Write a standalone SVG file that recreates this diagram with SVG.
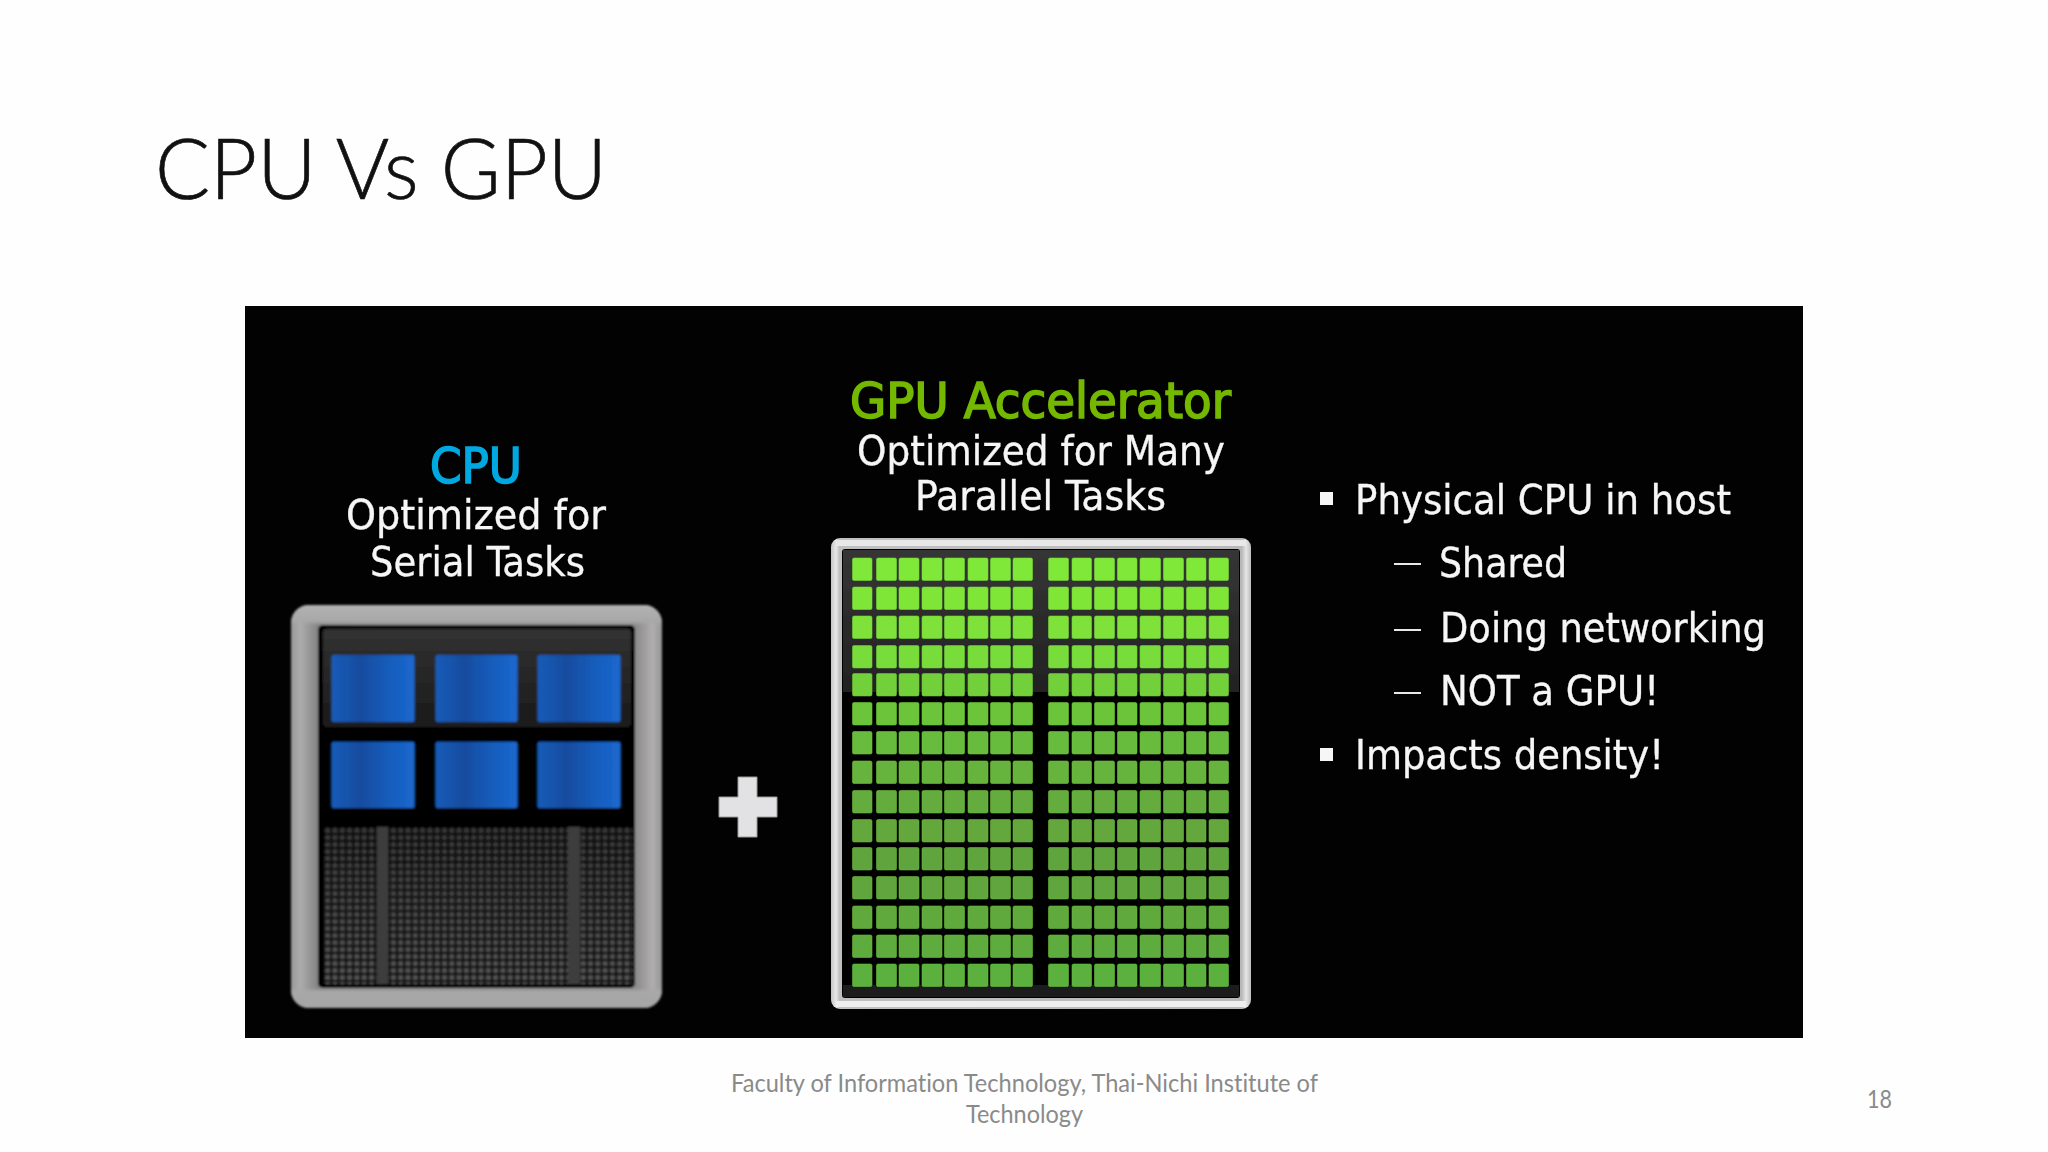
<svg xmlns="http://www.w3.org/2000/svg" xmlns:xlink="http://www.w3.org/1999/xlink" width="2048" height="1152" viewBox="0 0 2048 1152">
<style>
.sl{font-family:"DejaVu Sans Condensed","DejaVu Sans",sans-serif;font-size:41px;fill:#f6f6f6;stroke:#f6f6f6;stroke-width:.3px}
.hd{font-family:"DejaVu Sans Condensed","DejaVu Sans",sans-serif;font-size:49px;stroke-width:1.5px}
.ft{font-family:Lato,"Liberation Sans",sans-serif;font-size:25px;fill:#8a8a8a;font-variant-ligatures:none}
.blue{fill:url(#bl)}
.cell{stroke-width:.6}
</style>
<defs>
<filter id="softer" x="-5%" y="-5%" width="110%" height="110%"><feGaussianBlur stdDeviation="0.6"/></filter>
<filter id="soft" x="-5%" y="-5%" width="110%" height="110%"><feGaussianBlur stdDeviation="0.8"/></filter>
<linearGradient id="bl" x1="0" x2="1" y1="0" y2="0"><stop offset="0" stop-color="#1a5cb8"/><stop offset=".35" stop-color="#134c9f"/><stop offset=".7" stop-color="#175dbc"/><stop offset="1" stop-color="#1b68cf"/></linearGradient>
<linearGradient id="cpuFrame" x1="0" x2="1" y1="0" y2="0"><stop offset="0" stop-color="#989898"/><stop offset=".025" stop-color="#acacac"/><stop offset=".07" stop-color="#868686"/><stop offset=".93" stop-color="#8c8c8c"/><stop offset=".975" stop-color="#b0aeae"/><stop offset="1" stop-color="#959595"/></linearGradient>
<linearGradient id="cpuInner" x1="0" x2="0" y1="0" y2="1"><stop offset="0" stop-color="#b4b2b3"/><stop offset=".04" stop-color="#a8a8a8"/><stop offset=".05" stop-color="#a8a8a8" stop-opacity="0"/><stop offset=".95" stop-color="#a8a8a8" stop-opacity="0"/><stop offset=".96" stop-color="#a8a8a8"/><stop offset="1" stop-color="#a6a6a6"/></linearGradient>
<linearGradient id="band" x1="0" x2="0" y1="0" y2="1"><stop offset="0" stop-color="#323232"/><stop offset="1" stop-color="#1a1a1a"/></linearGradient>
<linearGradient id="band2" x1="0" x2="0" y1="0" y2="1"><stop offset="0" stop-color="#353535"/><stop offset="1" stop-color="#222"/></linearGradient>
<linearGradient id="meshShade" x1="0" x2="0" y1="0" y2="1"><stop offset="0" stop-color="#000" stop-opacity=".35"/><stop offset="1" stop-color="#000" stop-opacity="0"/></linearGradient>
<linearGradient id="gpuFrame" x1="0" x2="1" y1="0" y2="0"><stop offset="0" stop-color="#c4c4c4"/><stop offset=".012" stop-color="#e8e8e8"/><stop offset=".02" stop-color="#c0c0c0"/><stop offset=".978" stop-color="#b8b8b8"/><stop offset=".988" stop-color="#e6e6e6"/><stop offset="1" stop-color="#bcbcbc"/></linearGradient>
<pattern id="mesh" patternUnits="userSpaceOnUse" x="324" y="827" width="7.3" height="7"><rect width="7.3" height="7" fill="#181818"/><rect x="1.3" y="1.2" width="4.8" height="4.6" rx="1.500" fill="#585858"/></pattern>
<g id="gr">
<rect x="852.5" y="0" width="19.500" height="22.500" rx="1.500"/>
<rect x="876.5" y="0" width="20" height="22.500" rx="1.500"/>
<rect x="899" y="0" width="20" height="22.500" rx="1.500"/>
<rect x="922" y="0" width="20" height="22.500" rx="1.500"/>
<rect x="944.500" y="0" width="20" height="22.500" rx="1.500"/>
<rect x="968" y="0" width="20" height="22.500" rx="1.500"/>
<rect x="990.5" y="0" width="20" height="22.500" rx="1.500"/>
<rect x="1013" y="0" width="19.500" height="22.500" rx="1.500"/>
<rect x="1048.5" y="0" width="20" height="22.500" rx="1.500"/>
<rect x="1072" y="0" width="19.500" height="22.500" rx="1.500"/>
<rect x="1094.500" y="0" width="20" height="22.500" rx="1.500"/>
<rect x="1117.500" y="0" width="19.500" height="22.500" rx="1.500"/>
<rect x="1140" y="0" width="20.500" height="22.500" rx="1.500"/>
<rect x="1163.500" y="0" width="20" height="22.500" rx="1.500"/>
<rect x="1186.500" y="0" width="19.500" height="22.500" rx="1.500"/>
<rect x="1209" y="0" width="19.500" height="22.500" rx="1.500"/>
</g>
</defs>
<rect width="2048" height="1152" fill="#fefefe"/>
<g id="title"><text x="155" y="199" font-family="Lato,'Open Sans',sans-serif" font-weight="300" font-size="85" fill="#111" stroke="#111" stroke-width=".7" textLength="452" lengthAdjust="spacingAndGlyphs">CPU Vs GPU</text></g>
<g id="slide-image">
<rect x="245" y="306" width="1558" height="732" fill="#020202"/>
</g>
<g id="cpu-chip" filter="url(#soft)">
<rect x="291" y="605" width="371" height="403" rx="18" fill="url(#cpuFrame)"/>
<rect x="291" y="605" width="371" height="403" rx="18" fill="url(#cpuInner)"/>
<rect x="318" y="625" width="317" height="363" rx="5" fill="#000"/>
<rect x="323" y="629" width="308" height="98" rx="3" fill="url(#band)"/>
<rect x="324" y="827" width="309" height="157" fill="url(#mesh)"/>
<rect x="324" y="827" width="309" height="157" fill="url(#meshShade)"/>
<rect x="377" y="827" width="11" height="157" fill="#3c3c3c"/>
<rect x="568" y="827" width="12" height="157" fill="#3c3c3c"/>
<rect class="blue" x="331.500" y="655" width="83" height="67" rx="2"/>
<rect class="blue" x="435.500" y="655" width="82" height="67" rx="2"/>
<rect class="blue" x="537.500" y="655" width="83" height="67" rx="2"/>
<rect class="blue" x="331.500" y="742" width="83" height="66" rx="2"/>
<rect class="blue" x="435.500" y="742" width="82" height="66" rx="2"/>
<rect class="blue" x="537.500" y="742" width="83" height="66" rx="2"/>
</g>
<g id="plus"><path d="M738 777H757V797H777V817H757V837H738V817H719V797H738Z" fill="#e2e2e4" stroke="#9a9a9a" stroke-width="1" filter="url(#softer)"/></g>
<g id="gpu-chip" filter="url(#softer)">
<rect x="831" y="538" width="420" height="471" rx="9" fill="url(#gpuFrame)"/>
<rect x="836" y="540" width="410" height="6" fill="#e8e8e8"/>
<rect x="836" y="1001" width="410" height="6" fill="#eee"/>
<rect x="842" y="549" width="398" height="449" rx="3" fill="#000"/>
<rect x="843" y="550" width="396" height="142" fill="url(#band2)"/>
<rect x="843" y="985" width="396" height="12" fill="#1b1b1b"/>
<use xlink:href="#gr" href="#gr" y="558" class="cell" fill="#80e838" stroke="#76d835"/>
<use xlink:href="#gr" href="#gr" y="587" class="cell" fill="#7fe639" stroke="#76d835"/>
<use xlink:href="#gr" href="#gr" y="616" class="cell" fill="#7ee23a" stroke="#74d436"/>
<use xlink:href="#gr" href="#gr" y="645.500" class="cell" fill="#78dc3a" stroke="#70cc38"/>
<use xlink:href="#gr" href="#gr" y="673.500" class="cell" fill="#72d03a" stroke="#6cc638"/>
<use xlink:href="#gr" href="#gr" y="702.500" class="cell" fill="#6cc43a" stroke="#6cc638"/>
<use xlink:href="#gr" href="#gr" y="731.500" class="cell" fill="#68bc3c" stroke="#6cc23a"/>
<use xlink:href="#gr" href="#gr" y="761" class="cell" fill="#66b43c" stroke="#6cc03a"/>
<use xlink:href="#gr" href="#gr" y="790.500" class="cell" fill="#63ac3e" stroke="#6abc3a"/>
<use xlink:href="#gr" href="#gr" y="819.500" class="cell" fill="#63a73e" stroke="#6aba3a"/>
<use xlink:href="#gr" href="#gr" y="847.500" class="cell" fill="#60a43e" stroke="#68b83a"/>
<use xlink:href="#gr" href="#gr" y="876.500" class="cell" fill="#61a53e" stroke="#68b83a"/>
<use xlink:href="#gr" href="#gr" y="906" class="cell" fill="#60a93e" stroke="#68ba3a"/>
<use xlink:href="#gr" href="#gr" y="935" class="cell" fill="#5dac3e" stroke="#68bc3a"/>
<use xlink:href="#gr" href="#gr" y="964" class="cell" fill="#5bb03e" stroke="#66bc3a"/>
</g>
<g id="cpu-label" filter="url(#softer)">
<text class="hd" x="430" y="483" fill="#00a8e2" stroke="#00a8e2" textLength="92" lengthAdjust="spacingAndGlyphs">CPU</text>
<text class="sl" x="346" y="529" textLength="260" lengthAdjust="spacingAndGlyphs">Optimized for</text>
<text class="sl" x="370" y="576" textLength="215" lengthAdjust="spacingAndGlyphs">Serial Tasks</text>
</g>
<g id="gpu-label" filter="url(#softer)">
<text class="hd" x="850" y="418" fill="#74b800" stroke="#74b800" textLength="381" lengthAdjust="spacingAndGlyphs">GPU Accelerator</text>
<text class="sl" x="857" y="465" textLength="368" lengthAdjust="spacingAndGlyphs">Optimized for Many</text>
<text class="sl" x="915" y="510" textLength="251" lengthAdjust="spacingAndGlyphs">Parallel Tasks</text>
</g>
<g id="bullets" filter="url(#softer)">
<rect x="1320" y="492" width="13" height="13" fill="#f6f6f6"/>
<text class="sl" x="1355" y="514" textLength="376" lengthAdjust="spacingAndGlyphs">Physical CPU in host</text>
<rect x="1394" y="563" width="27" height="2" fill="#e8e8e8"/>
<text class="sl" x="1439" y="577" textLength="128" lengthAdjust="spacingAndGlyphs">Shared</text>
<rect x="1394" y="629" width="27" height="2" fill="#e8e8e8"/>
<text class="sl" x="1440" y="642" textLength="326" lengthAdjust="spacingAndGlyphs">Doing networking</text>
<rect x="1394" y="692" width="27" height="2" fill="#e8e8e8"/>
<text class="sl" x="1440" y="705" textLength="219" lengthAdjust="spacingAndGlyphs">NOT a GPU!</text>
<rect x="1320" y="748" width="13" height="13" fill="#f6f6f6"/>
<text class="sl" x="1355" y="769" textLength="309" lengthAdjust="spacingAndGlyphs">Impacts density!</text>
</g>
<g id="footer">
<text class="ft" x="731" y="1092" textLength="587" lengthAdjust="spacingAndGlyphs">Faculty of Information Technology, Thai-Nichi Institute of</text>
<text class="ft" x="966" y="1123" textLength="117" lengthAdjust="spacingAndGlyphs">Technology</text>
<text class="ft" x="1867" y="1108" textLength="25" lengthAdjust="spacingAndGlyphs">18</text>
</g>
</svg>
